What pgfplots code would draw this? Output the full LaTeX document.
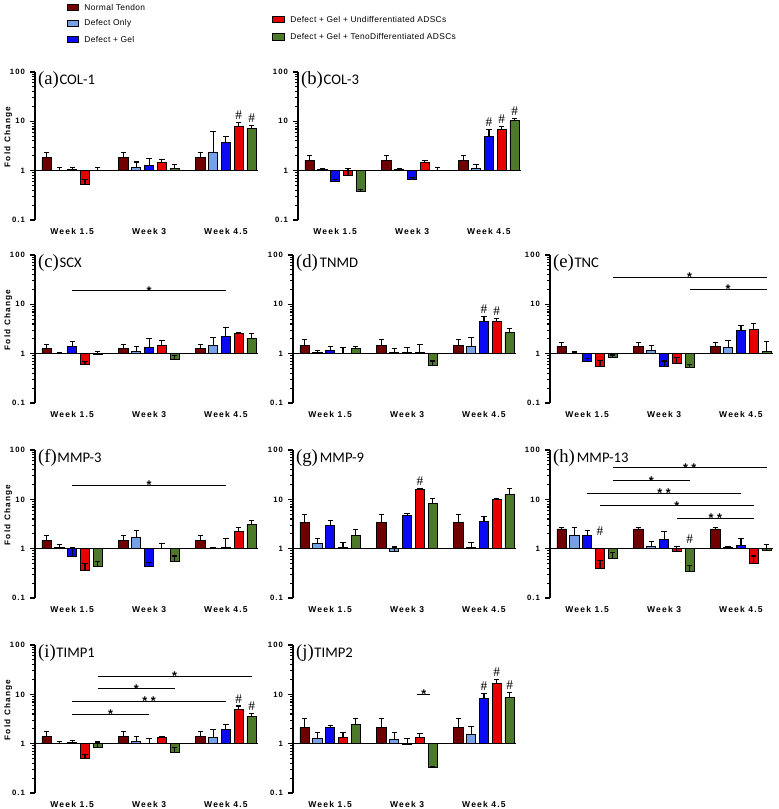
\documentclass[border=0pt]{standalone}
\usepackage{pgfplots}
\usepackage{pgfplotstable}
\pgfplotsset{compat=1.18}
\usepackage{fontspec}
\setmainfont{Liberation Sans}
\newfontfamily\gpf[LetterSpace=14]{Liberation Sans}
\newfontfamily\legfont[LetterSpace=4]{Liberation Sans}
\newfontfamily\gene{Carlito}
\newfontfamily\ser{Liberation Serif}

\definecolor{cNT}{RGB}{112,0,0}
\definecolor{cDO}{RGB}{118,160,232}
\definecolor{cDG}{RGB}{10,10,245}
\definecolor{cUD}{RGB}{230,0,0}
\definecolor{cTD}{RGB}{76,122,42}

\pgfplotsset{every axis/.append style={
    scale only axis, width=167.25pt, height=111pt,
    ymode=log, log origin=0, ymin=0.1, ymax=100,
    xmin=-0.9, xmax=16.5,
    axis x line*=bottom, axis y line*=left,
    x axis line style={draw=none},
    y axis line style={line width=0.9pt, -},
    xtick={2,8,14}, xticklabels={Week 1.5,Week 3,Week 4.5},
    xtick style={draw=none},
    xticklabel style={font=\gpf\bfseries\fontsize{6.4}{7}\selectfont, yshift=1pt},
    ytick={0.1,1,10,100}, yticklabels={0.1,1,10,100},
    minor ytick={0.2,0.3,0.4,0.5,0.6,0.7,0.8,0.9,2,3,4,5,6,7,8,9,20,30,40,50,60,70,80,90},
    tick align=outside,
    ytick style={line width=0.8pt, black},
    major tick length=3.5pt, minor tick length=2pt,
    yticklabel style={font=\gpf\bfseries\fontsize{5.8}{6}\selectfont, xshift=-0.5pt},
    ylabel style={at={(rel axis cs:0,0.56)}, anchor=center, yshift=20pt, font=\gpf\bfseries\fontsize{6.2}{7}\selectfont},
    clip=false,
    ybar, bar width=0.72, bar shift=0pt,
    error bars/y dir=plus, error bars/y explicit,
    error bars/error bar style={line width=0.8pt, black},
    error bars/error mark options={rotate=90, mark size=2pt, line width=0.8pt, black},
}}

\newcommand\bars[1]{%
  \addplot[fill=cNT, draw=black, line width=0.6pt] table[x expr=\thisrow{w}, y=nt, y error=nte]{#1};
  \addplot[fill=cDO, draw=black, line width=0.6pt] table[x expr=\thisrow{w}+1, y=do, y error=doe]{#1};
  \addplot[fill=cDG, draw=black, line width=0.6pt] table[x expr=\thisrow{w}+2, y=dg, y error=dge]{#1};
  \addplot[fill=cUD, draw=black, line width=0.6pt] table[x expr=\thisrow{w}+3, y=ud, y error=ude]{#1};
  \addplot[fill=cTD, draw=black, line width=0.6pt] table[x expr=\thisrow{w}+4, y=td, y error=tde]{#1};
  \draw[line width=1pt] (axis cs:-0.9,1) -- (axis cs:16.5,1);
}
\newcommand\ttl[2]{\node[anchor=base west, inner sep=0pt] at (rel axis cs:0.013,0.915)
  {\ser\fontsize{14}{14}\selectfont(#1)\gene\fontsize{11}{11}\selectfont\kern0.5pt#2};}
\newcommand\hash[2]{\node[anchor=south, inner sep=0pt, yshift=2pt, font=\ser\fontsize{10}{10}\selectfont] at (axis cs:#1,#2) {\#};}
\newcommand\sig[5]{\draw[line width=0.75pt] (axis cs:#1,#4) -- (axis cs:#2,#4);
  \node[anchor=south, inner sep=0pt, yshift=-3.6pt, font=\bfseries\fontsize{9.5}{9}\selectfont] at (axis cs:#3,#4) {#5};}

% columns: w nt nte do doe dg dge ud ude td tde
\pgfplotstableread{
w nt nte do doe dg dge ud ude td tde
0 1.85 0.45 1.03 0.12 1.05 0.12 0.52 0.13 1.02 0.16
6 1.85 0.45 1.15 0.35 1.30 0.47 1.45 0.23 1.10 0.24
12 1.85 0.45 2.40 3.80 3.80 1.20 7.80 1.70 7.10 1.10
}\tA
\pgfplotstableread{
w nt nte do doe dg dge ud ude td tde
0 1.63 0.43 1.05 0.06 0.60 0.05 0.80 0.30 0.38 0.04
6 1.63 0.43 1.05 0.06 0.65 0.07 1.45 0.18 1.00 0.18
12 1.63 0.43 1.10 0.26 5.00 1.70 6.90 1.00 10.3 1.20
}\tB
\pgfplotstableread{
w nt nte do doe dg dge ud ude td tde
0 1.28 0.26 1.03 0.02 1.42 0.37 0.61 0.07 0.96 0.17
6 1.28 0.26 1.10 0.32 1.36 0.64 1.47 0.38 0.76 0.14
12 1.28 0.26 1.47 0.62 2.26 1.14 2.60 0.07 2.03 0.52
}\tC
\pgfplotstableread{
w nt nte do doe dg dge ud ude td tde
0 1.49 0.41 1.05 0.12 1.15 0.23 1.00 0.32 1.26 0.16
6 1.49 0.41 1.05 0.21 1.05 0.31 1.08 0.46 0.57 0.14
12 1.49 0.41 1.42 0.67 4.50 1.10 4.50 0.75 2.70 0.50
}\tD
\pgfplotstableread{
w nt nte do doe dg dge ud ude td tde
0 1.40 0.31 1.03 0.05 0.71 0.09 0.54 0.20 0.83 0.11
6 1.40 0.31 1.17 0.32 0.54 0.17 0.65 0.18 0.52 0.09
12 1.40 0.31 1.36 0.49 2.97 0.77 3.07 1.03 1.10 0.64
}\tE
\pgfplotstableread{
w nt nte do doe dg dge ud ude td tde
0 1.47 0.38 1.05 0.17 0.71 0.34 0.36 0.15 0.43 0.11
6 1.47 0.38 1.66 0.67 0.44 0.08 1.00 0.26 0.54 0.17
12 1.47 0.38 1.03 0.02 1.05 0.53 2.19 0.51 3.16 0.52
}\tF
\pgfplotstableread{
w nt nte do doe dg dge ud ude td tde
0 3.46 1.54 1.28 0.33 2.97 0.71 1.08 0.28 1.85 0.59
6 3.46 1.54 0.90 0.18 4.70 0.55 16.1 0.50 8.30 2.20
12 3.46 1.54 1.05 0.31 3.57 0.93 10.0 0.50 12.6 4.00
}\tG
\pgfplotstableread{
w nt nte do doe dg dge ud ude td tde
0 2.51 0.19 1.85 0.85 1.85 0.51 0.39 0.18 0.63 0.20
6 2.51 0.19 1.10 0.32 1.54 0.65 0.87 0.26 0.35 0.10
12 2.51 0.19 1.04 0.04 1.18 0.40 0.51 0.20 0.93 0.29
}\tH
\pgfplotstableread{
w nt nte do doe dg dge ud ude td tde
0 1.40 0.39 1.02 0.11 1.08 0.09 0.50 0.11 0.83 0.25
6 1.40 0.39 1.13 0.27 1.00 0.26 1.32 0.08 0.68 0.15
12 1.40 0.39 1.36 0.57 1.93 0.57 5.00 0.80 3.57 0.60
}\tI
\pgfplotstableread{
w nt nte do doe dg dge ud ude td tde
0 2.09 1.10 1.30 0.41 2.15 0.18 1.36 0.30 2.44 0.82
6 2.09 1.10 1.22 0.44 0.97 0.29 1.32 0.31 0.33 0.01
12 2.09 1.10 1.54 0.68 8.30 2.20 16.6 3.40 8.80 2.00
}\tJ

\begin{document}
\begin{tikzpicture}
\useasboundingbox (0,0) rectangle (583.5pt,-606.75pt);

% legend
\begin{scope}[font=\legfont\fontsize{6.3}{7}\selectfont, line width=0.6pt]
\draw[fill=cNT] (50.25pt,-3pt) rectangle (58.5pt,-8pt);
\node[anchor=west, inner sep=0pt] at (63pt,-5.5pt) {Normal Tendon};
\draw[fill=cDO] (50.25pt,-15pt) rectangle (58.5pt,-20pt);
\node[anchor=west, inner sep=0pt] at (63pt,-17.5pt) {Defect Only};
\draw[fill=cDG] (50.25pt,-27pt) rectangle (58.5pt,-32pt);
\node[anchor=west, inner sep=0pt] at (63pt,-29.5pt) {Defect + Gel};
\draw[fill=cUD] (204pt,-12pt) rectangle (213pt,-17pt);
\node[anchor=west, inner sep=0pt] at (217.5pt,-14.6pt) {Defect + Gel + Undifferentiated ADSCs};
\draw[fill=cTD] (204pt,-25pt) rectangle (213pt,-30pt);
\node[anchor=west, inner sep=0pt] at (217.5pt,-27.5pt) {Defect + Gel + TenoDifferentiated ADSCs};
\end{scope}

% (a)
\begin{axis}[at={(26.25pt,-165pt)}, anchor=south west, ylabel={Fold Change}]
\bars{\tA}
\ttl{a}{COL-1}
\hash{15}{9.5}\hash{16}{8.2}
\end{axis}
% (b)
\begin{axis}[at={(223.5pt,-165pt)}, anchor=south west]
\bars{\tB}
\ttl{b}{COL-3}
\hash{14}{6.7}\hash{15}{7.9}\hash{16}{11.5}
\end{axis}
% (c)
\begin{axis}[at={(26.25pt,-302.25pt)}, anchor=south west, ylabel={Fold Change}]
\bars{\tC}
\ttl{c}{SCX}
\sig{2}{14}{8}{18.8}{*}
\end{axis}
% (d)
\begin{axis}[at={(219.75pt,-302.25pt)}, anchor=south west]
\bars{\tD}
\ttl{d}{\kern1pt TNMD}
\hash{14}{5.6}\hash{15}{5.25}
\end{axis}
% (e)
\begin{axis}[at={(412.5pt,-302.25pt)}, anchor=south west]
\bars{\tE}
\ttl{e}{TNC}
\sig{4}{16}{10}{35.7}{*}
\sig{10}{16}{13}{20.3}{*}
\end{axis}
% (f)
\begin{axis}[at={(26.25pt,-448.5pt)}, anchor=south west, ylabel={Fold Change}]
\bars{\tF}
\ttl{f}{MMP-3}
\sig{2}{14}{8}{19.4}{*}
\end{axis}
% (g)
\begin{axis}[at={(219.75pt,-448.5pt)}, anchor=south west]
\bars{\tG}
\ttl{g}{\kern1pt MMP-9}
\hash{9}{16.6}
\end{axis}
% (h)
\begin{axis}[at={(412.5pt,-448.5pt)}, anchor=south west]
\bars{\tH}
\ttl{h}{\kern1pt MMP-13}
\hash{3}{1.6}\hash{10}{1.12}
\sig{4}{16}{10}{43.6}{*\;*}
\sig{4}{10}{7}{23.6}{*}
\sig{2}{14}{8}{13.2}{*\;*}
\sig{3}{15}{9}{7.36}{*}
\sig{9}{15}{12}{4.17}{*\;*}
\end{axis}
% (i)
\begin{axis}[at={(26.25pt,-594.75pt)}, anchor=south west, ylabel={Fold Change}]
\bars{\tI}
\ttl{i}{TIMP1}
\hash{15}{5.8}\hash{16}{4.17}
\sig{4}{16}{10}{23.3}{*}
\sig{4}{10}{7}{13.0}{*}
\sig{2}{14}{8}{7.24}{*\;*}
\sig{2}{8}{5}{3.98}{*}
\end{axis}
% (j)
\begin{axis}[at={(219.75pt,-594.75pt)}, anchor=south west]
\bars{\tJ}
\ttl{j}{TIMP2}
\hash{14}{10.5}\hash{15}{20}\hash{16}{10.8}
\sig{8.8}{9.8}{9.3}{10}{*}
\end{axis}
\end{tikzpicture}
\end{document}
